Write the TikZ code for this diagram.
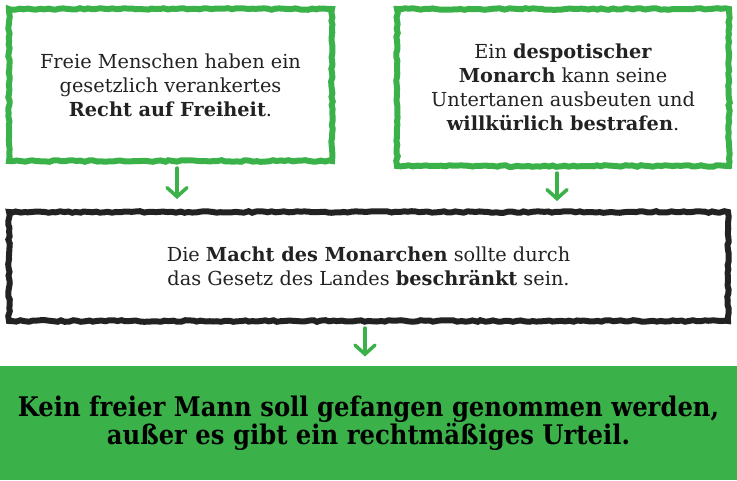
\documentclass[tikz,border=0pt]{standalone}
\usepackage{fontspec}
\setmainfont{DejaVu Serif}
\newfontfamily\heavyfont{DejaVu Serif}[FakeStretch=0.9]
\usetikzlibrary{arrows.meta,decorations.pathmorphing}
\definecolor{gruen}{RGB}{58,178,73}
\definecolor{tinte}{RGB}{34,34,34}

\begin{document}
\begin{tikzpicture}[x=1pt, y=-1pt, line width = 1pt,
    kasten/.style = {draw, line width=6pt, minimum width=#1, inner sep=0pt,
                     decorate, decoration={random steps, segment length=4pt, amplitude=0.8pt},
                     align=center, text=tinte, font=\fontsize{19.3}{24}\selectfont},
    pfeil/.style = {draw=gruen, line width=3.5pt, line cap=round,
                    -{Straight Barb[length=9pt, width=20pt, line cap=round]}}]
      \useasboundingbox (0,0) rectangle (737,480);
      \node [kasten=323pt, minimum height=152pt, draw=gruen] (b1) at (170.5, 85)
        {Freie Menschen haben ein\\gesetzlich verankertes\\\textbf{Recht auf Freiheit}.};
      \node [kasten=332pt, minimum height=157pt, draw=gruen] (b2) at (563, 87.5)
        {Ein \textbf{despotischer}\\\textbf{Monarch} kann seine\\Untertanen ausbeuten und\\\textbf{willkürlich bestrafen}.};
      \node [kasten=719pt, minimum height=109pt, draw=tinte] (b3) at (368.5, 266.5)
        {Die \textbf{Macht des Monarchen} sollte durch\\das Gesetz des Landes \textbf{beschränkt} sein.};
      \node [fill=gruen, minimum width=737pt, minimum height=114pt, inner sep=0pt,
             align=center, font=\heavyfont\bfseries\fontsize{27}{28}\selectfont] (b4) at (368.5, 423)
        {Kein freier Mann soll gefangen genommen werden,\\außer es gibt ein rechtmäßiges Urteil.};
      \coordinate (p1) at (177, 0); \coordinate (p2) at (557, 0); \coordinate (p3) at (365, 0);
      \draw [pfeil, shorten <=4pt, shorten >=10pt] (b1.south -| p1) -- (b3.north -| p1);
      \draw [pfeil, shorten <=4pt, shorten >=8pt] (b2.south -| p2) -- (b3.north -| p2);
      \draw [pfeil, shorten <=4pt, shorten >=9pt] (b3.south -| p3) -- (b4.north -| p3);
    \end{tikzpicture}
\end{document}
